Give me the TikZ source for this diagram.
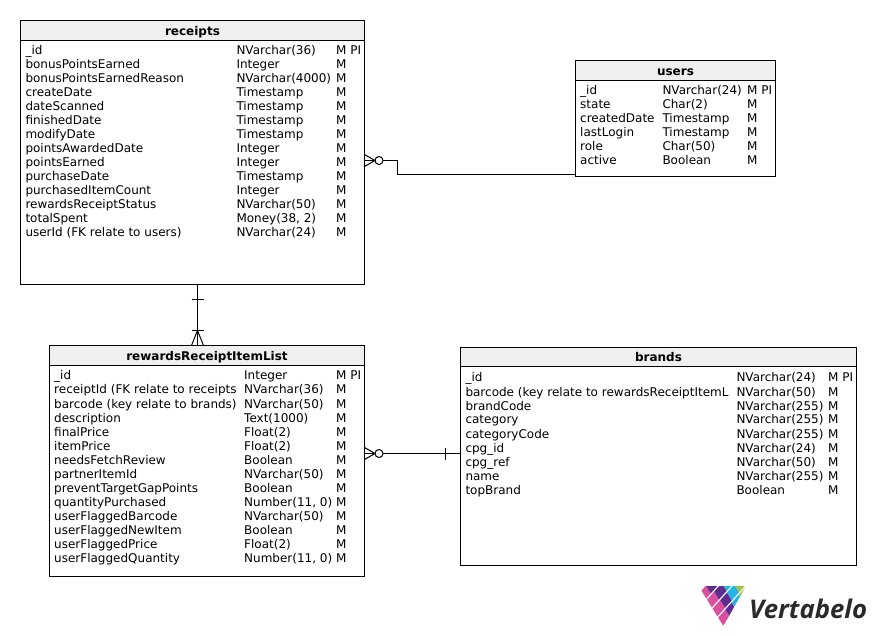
\documentclass[tikz,border=0pt]{standalone}
\usepackage{fontspec}
\setmainfont{DejaVu Sans}
\newfontfamily\logofont{Open Sans}
\usetikzlibrary{calc}
\newcount\rowno
\tikzset{
  tablebox/.style={draw=black,line width=1pt,fill=white,inner sep=0pt,outer sep=0pt},
  headbar/.style={fill=hdr,draw=black,line width=1pt},
  celltext/.style={anchor=base west,inner sep=0pt,font=\fontsize{12}{14}\selectfont,text=black},
  headtext/.style={anchor=base,inner sep=0pt,font=\fontsize{12}{14}\selectfont\bfseries,text=black},
  link/.style={draw=black,line width=1pt},
  ring/.style={draw=black,line width=1pt,fill=white,circle,minimum size=8pt,inner sep=0pt,outer sep=0pt}
}
\definecolor{hdr}{HTML}{EFEFEF}
\definecolor{lpink}{HTML}{D94F9E}
\definecolor{lpurple}{HTML}{5F2C91}
\definecolor{lblue}{HTML}{24B4EA}
\definecolor{lgreen}{HTML}{9CC14A}
\definecolor{ldark}{HTML}{2A2A2A}
\newcommand{\tbl}[7]{%
  \node[tablebox,minimum width=#4pt-#2pt,minimum height=#5pt-#3pt,anchor=north west] (#1) at (#2,#3) {};
  \path[headbar] (#2,#3) rectangle (#4,#6);
  \node[headtext] (#1title) at ({(#2+#4)/2},#6-5.5) {#7};
}
\newcommand{\setcols}[5]{\def\tname{#1}\def\cola{#2}\def\colb{#3}\def\colc{#4}\def\rowbase{#5}\global\rowno=0 }
\newcommand{\rw}[3]{%
  \node[celltext] (\tname a\the\rowno) at (\cola,\rowbase+14*\the\rowno) {#1};
  \node[celltext] (\tname b\the\rowno) at (\colb,\rowbase+14*\the\rowno) {#2};
  \node[celltext] (\tname c\the\rowno) at (\colc,\rowbase+14*\the\rowno) {#3};
  \global\advance\rowno by 1
}
% logo tile: band s, from t1 to t2
\newcommand{\tile}[4]{%
  \fill[#4] ({701+5.6*(#1+0.07)+4.5*#2},{590+9*(#1+0.07)-5*#2})
    -- ({701+5.6*(#1+0.93)+4.5*#2},{590+9*(#1+0.93)-5*#2})
    -- ({701+5.6*(#1+0.93)+4.5*#3},{590+9*(#1+0.93)-5*#3})
    -- ({701+5.6*(#1+0.07)+4.5*#3},{590+9*(#1+0.07)-5*#3}) -- cycle;
}
\begin{document}
\begin{tikzpicture}[x=1pt,y=-1pt]
\useasboundingbox (0,0) rectangle (876,636);
\fill[white] (0,0) rectangle (876,636);
\tbl{receipts}{20.5}{20.5}{364.5}{284.5}{41}{receipts}
\setcols{receipts}{25.3}{236.3}{336}{55}
\rw{\_id}{NVarchar(36)}{M PI}
\rw{bonusPointsEarned}{Integer}{M}
\rw{bonusPointsEarnedReason}{NVarchar(4000)}{M}
\rw{createDate}{Timestamp}{M}
\rw{dateScanned}{Timestamp}{M}
\rw{finishedDate}{Timestamp}{M}
\rw{modifyDate}{Timestamp}{M}
\rw{pointsAwardedDate}{Integer}{M}
\rw{pointsEarned}{Integer}{M}
\rw{purchaseDate}{Timestamp}{M}
\rw{purchasedItemCount}{Integer}{M}
\rw{rewardsReceiptStatus}{NVarchar(50)}{M}
\rw{totalSpent}{Money(38, 2)}{M}
\rw{userId (FK relate to users)}{NVarchar(24)}{M}

\tbl{users}{575.5}{60.5}{775.5}{176.5}{81}{users}
\setcols{users}{580}{662.3}{747}{95}
\rw{\_id}{NVarchar(24)}{M PI}
\rw{state}{Char(2)}{M}
\rw{createdDate}{Timestamp}{M}
\rw{lastLogin}{Timestamp}{M}
\rw{role}{Char(50)}{M}
\rw{active}{Boolean}{M}

\tbl{rewards}{49.5}{345.5}{364.5}{576.5}{366}{rewardsReceiptItemList}
\setcols{rewards}{54}{244}{336}{380}
\rw{\_id}{Integer}{M PI}
\rw{receiptId (FK relate to receipts}{NVarchar(36)}{M}
\rw{barcode (key relate to brands)}{NVarchar(50)}{M}
\rw{description}{Text(1000)}{M}
\rw{finalPrice}{Float(2)}{M}
\rw{itemPrice}{Float(2)}{M}
\rw{needsFetchReview}{Boolean}{M}
\rw{partnerItemId}{NVarchar(50)}{M}
\rw{preventTargetGapPoints}{Boolean}{M}
\rw{quantityPurchased}{Number(11, 0)}{M}
\rw{userFlaggedBarcode}{NVarchar(50)}{M}
\rw{userFlaggedNewItem}{Boolean}{M}
\rw{userFlaggedPrice}{Float(2)}{M}
\rw{userFlaggedQuantity}{Number(11, 0)}{M}

\tbl{brands}{460.5}{347.5}{856.5}{565.5}{367}{brands}
\setcols{brands}{465.3}{736.3}{828}{382}
\rw{\_id}{NVarchar(24)}{M PI}
\rw{barcode (key relate to rewardsReceiptItemL}{NVarchar(50)}{M}
\rw{brandCode}{NVarchar(255)}{M}
\rw{category}{NVarchar(255)}{M}
\rw{categoryCode}{NVarchar(255)}{M}
\rw{cpg\_id}{NVarchar(24)}{M}
\rw{cpg\_ref}{NVarchar(50)}{M}
\rw{name}{NVarchar(255)}{M}
\rw{topBrand}{Boolean}{M}

% receipts -- users
\coordinate (ru) at (receipts.east|-0,160.5);
\coordinate (ur) at (users.west|-0,174.5);
\node[ring] (ringA) at (379,160.5) {};
\draw[link] (ru) -- (ringA.west);
\draw[link] ($(ru)+(0,-6)$) -- (ringA.west);
\draw[link] ($(ru)+(0,6)$) -- (ringA.west);
\draw[link] (ringA.east) -- (397.5,160.5) -- (397.5,174.5) -- (ur);
% receipts -- rewards
\coordinate (rr) at (receipts.south-|197.5,0);
\coordinate (rw) at (rewards.north-|197.5,0);
\draw[link] (rr) -- (rw);
\draw[link] (191.5,299.5) -- (203.5,299.5);
\draw[link] (191.5,330.5) -- (203.5,330.5);
\draw[link] (197.5,330.5) -- (191.5,345.5);
\draw[link] (197.5,330.5) -- (203.5,345.5);
% rewards -- brands
\coordinate (wb) at (rewards.east|-0,453.5);
\coordinate (bw) at (brands.west|-0,453.5);
\node[ring] (ringB) at (379,453.5) {};
\draw[link] (wb) -- (ringB.west);
\draw[link] ($(wb)+(0,-6)$) -- (ringB.west);
\draw[link] ($(wb)+(0,6)$) -- (ringB.west);
\draw[link] (ringB.east) -- (bw);
\draw[link] (445.5,447.5) -- (445.5,459.5);
% logo mark
\begin{scope}
\clip (700.5,590) -- (706,586) -- (746,586) -- (723,626.5) -- cycle;
\tile{0}{0}{1}{lpink}\tile{0}{1}{3}{lpurple}
\tile{1}{0}{1.6}{lpink}\tile{1}{1.6}{3.3}{lpurple}\tile{1}{3.3}{5}{lblue}
\tile{2}{0}{1.7}{lpink}\tile{2}{1.7}{3.2}{lpurple}\tile{2}{3.2}{4.8}{lblue}\tile{2}{4.8}{7}{lgreen}
\tile{3}{0}{1.6}{lpink}\tile{3}{1.6}{3}{lpurple}\tile{3}{3}{4.6}{lblue}\tile{3}{4.6}{7}{lgreen}
\end{scope}
\node[anchor=base west,inner sep=0pt,text=ldark,font=\fontsize{25.7}{26}\selectfont\logofont\bfseries\itshape] (logo) at (749,618) {Vertabelo};
\end{tikzpicture}
\end{document}
